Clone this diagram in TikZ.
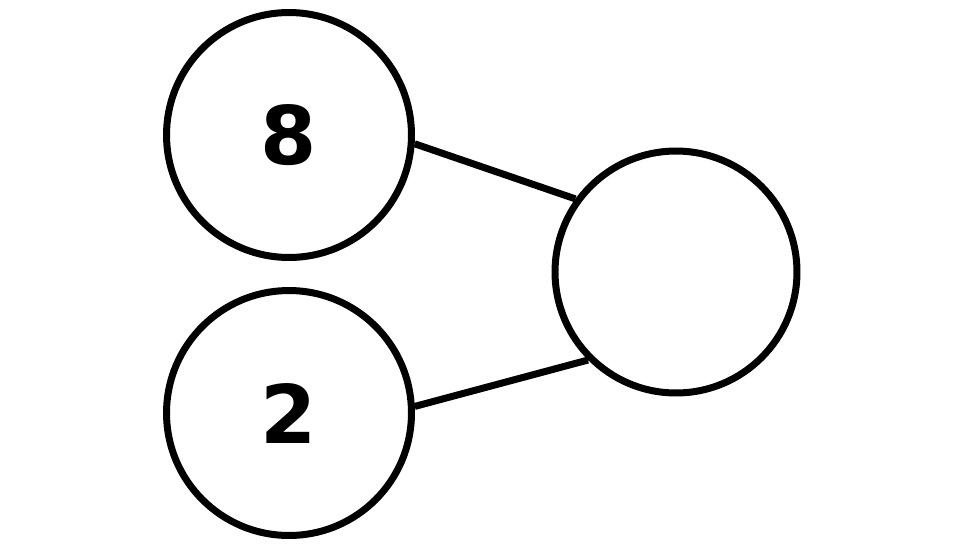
\documentclass[tikz,border=0pt]{standalone}
\usepackage{fontspec}
\setmainfont{DejaVu Sans}
\begin{document}
\begin{tikzpicture}[x=0.02cm,y=-0.02cm,
  circ/.style={draw=black,line width=0.14cm,circle,minimum size=4.9cm,inner sep=0pt,font=\fontsize{46}{50}\selectfont\bfseries},
  link/.style={draw=black,line width=0.14cm}]
\useasboundingbox (0,0) rectangle (976,549);
\node[circ] (a) at (289,135) {8};
\node[circ] (b) at (289,413) {2};
\node[circ,minimum size=4.84cm] (c) at (676,272) {};
\draw[link] (a.-4.6) -- (c.144.3);
\draw[link] (b.3.6) -- (c.225);
\end{tikzpicture}
\end{document}
